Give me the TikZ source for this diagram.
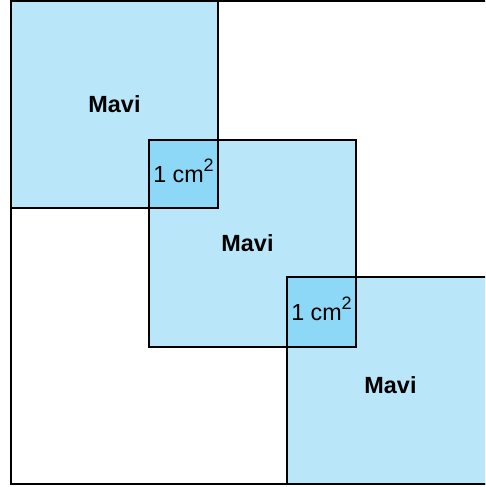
\documentclass[tikz,border=0pt]{standalone}
\usepackage{fontspec}
\setmainfont{Liberation Sans}
\definecolor{mavi}{RGB}{186,230,250}
\definecolor{koyumavi}{RGB}{142,216,247}
\newcommand{\birkare}{1 cm\raisebox{11pt}{\fontsize{18}{18}\selectfont 2}}

\begin{document}
\begin{tikzpicture}[x=1pt,y=-1pt,
bignode/.style={rectangle, draw=black, fill=mavi, line width=2pt, minimum size=207pt, inner sep=0pt, outer sep=0pt},
smallnode/.style={rectangle, draw=black, fill=koyumavi, line width=2pt, minimum width=69pt, minimum height=68pt, inner sep=0pt, outer sep=0pt},
textnode/.style={font=\fontsize{23.4}{28}\selectfont\bfseries, inner sep=0pt},
unitnode/.style={font=\fontsize{23.3}{28}\selectfont, inner sep=0pt, yshift=3pt}
]
    \clip (0,0) rectangle (485,487);
    \draw[line width=2pt] (11,1) rectangle (494,484);

    \node [bignode] (k1) at (114.5,104.5) {};
    \node [bignode] (k2) at (252.5,243.5) {};
    \node [bignode] (k3) at (390.5,380.5) {};

    \node [smallnode] (o1) at (183.5,174) {};
    \node [smallnode,minimum height=70pt] (o2) at (321.5,312) {};

    \node [textnode] (t1) at (k1) {Mavi};
    \node [textnode,xshift=-5pt] (t2) at (k2) {Mavi};
    \node [textnode,yshift=-4.5pt] (t3) at (k3) {Mavi};

    \node [unitnode] (u1) at (o1) {\birkare};
    \node [unitnode] (u2) at (o2) {\birkare};
\end{tikzpicture}
\end{document}
